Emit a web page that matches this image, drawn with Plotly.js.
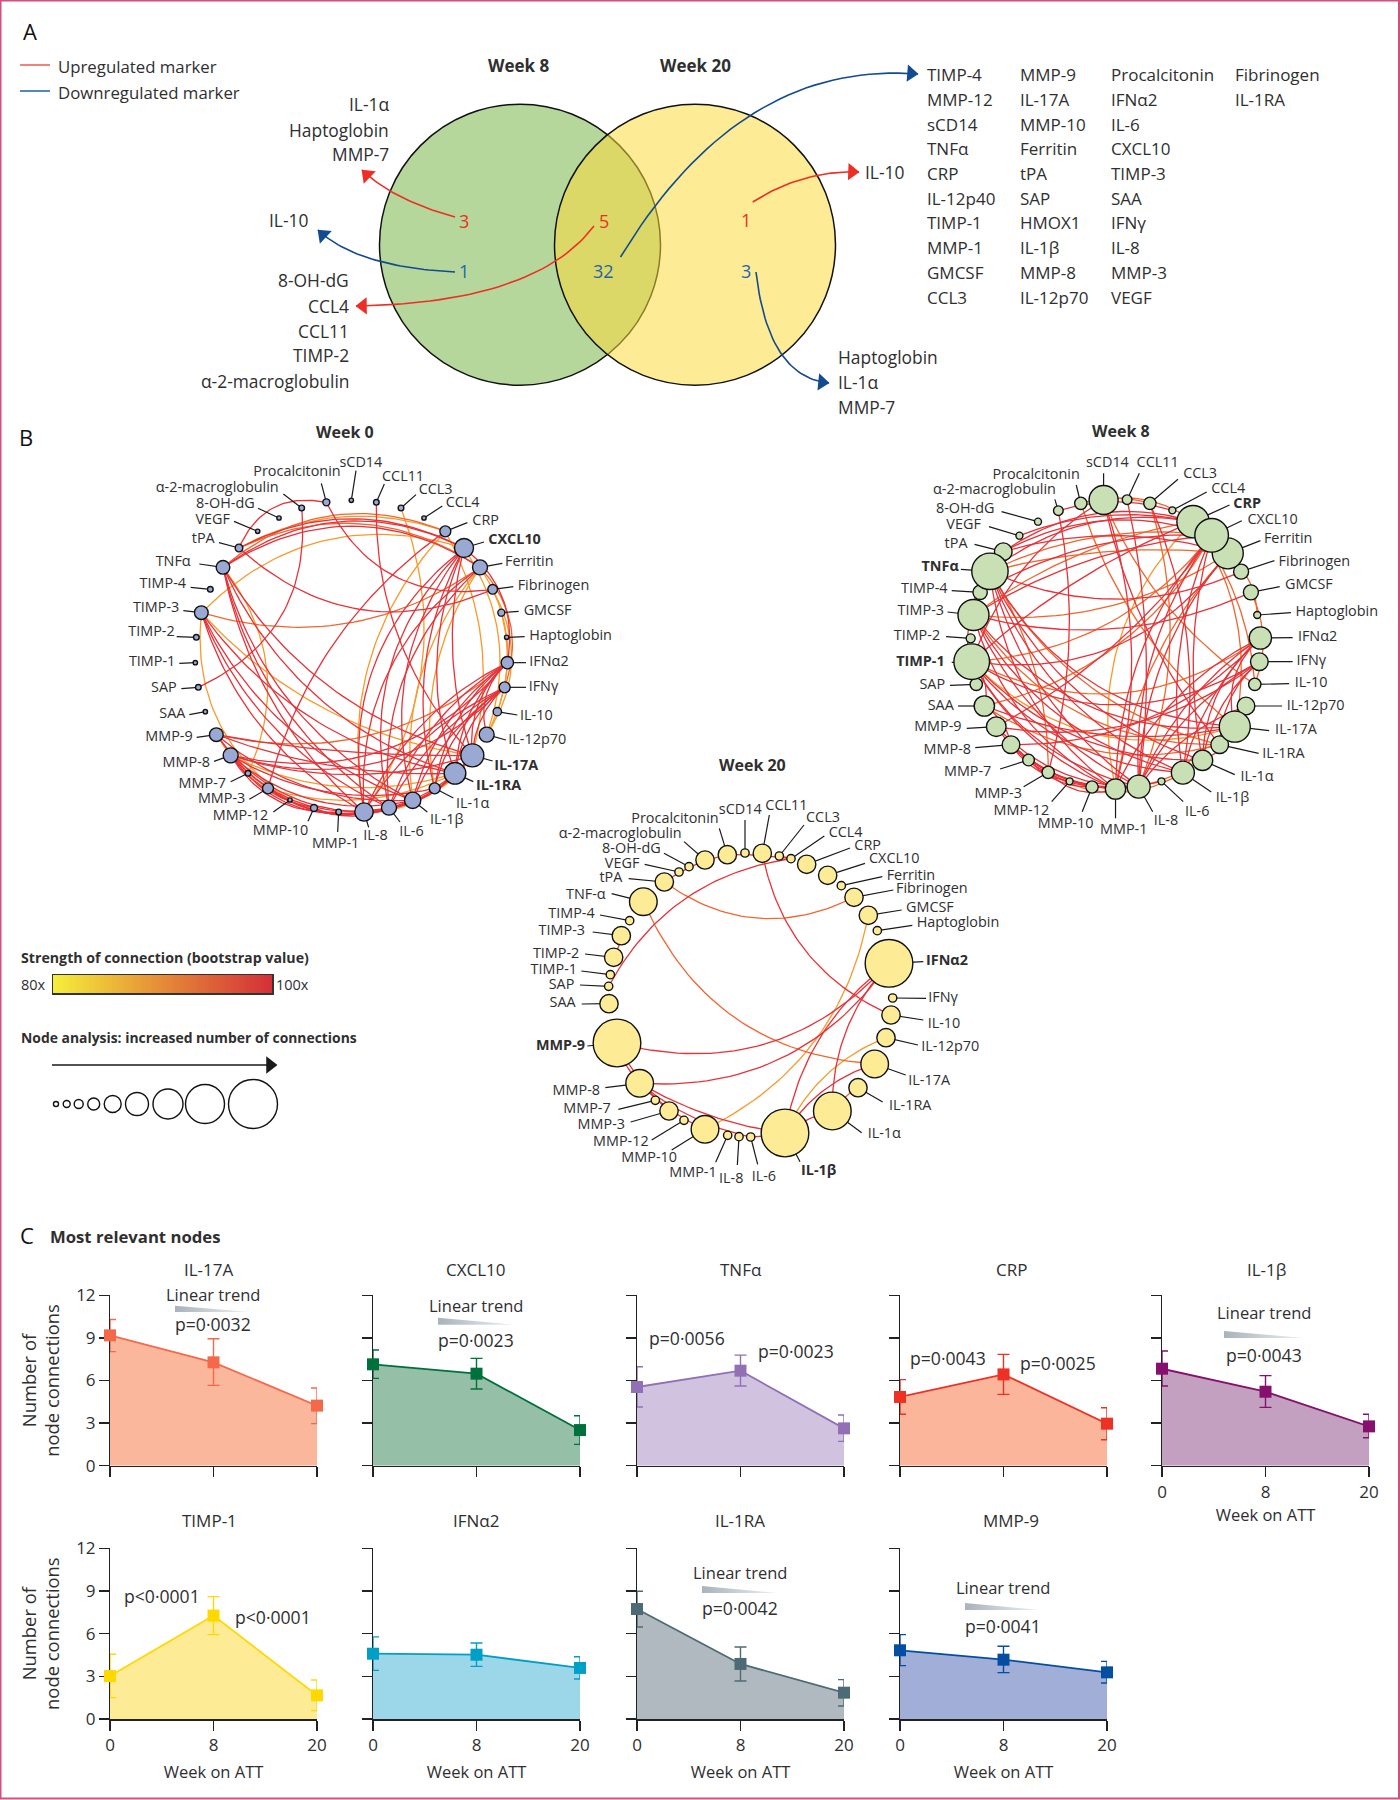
<!DOCTYPE html>
<html><head><meta charset="utf-8">
<script src="https://cdn.plot.ly/plotly-3.0.1.min.js"></script>
<style>html,body{margin:0;padding:0;background:#fff}#chart{width:1400px;height:1800px}</style>
</head><body><div id="chart"></div>
<script>
// ---------- Panel C data ----------
const weekTicks = ["0","8","20"];
const panelNames = ["IL-17A","CXCL10","TNFα","CRP","IL-1β","TIMP-1","IFNα2","IL-1RA","MMP-9"];
const il17aMean=[9.18,7.28,4.23], il17aHigh=[10.3,8.94,5.47], il17aLow=[8.03,5.66,2.96];
const cxcl10Mean=[7.14,6.48,2.51], cxcl10High=[8.15,7.56,3.52], cxcl10Low=[6.15,5.4,1.5];
const tnfMean=[5.54,6.69,2.63], tnfHigh=[6.97,7.79,3.57], tnfLow=[4.13,5.61,1.71];
const crpMean=[4.84,6.43,2.96], crpHigh=[6.06,7.84,4.08], crpLow=[3.62,5.02,1.83];
const il1bMean=[6.83,5.21,2.77], il1bHigh=[8.08,6.34,3.62], il1bLow=[5.61,4.11,1.97];
const timp1Mean=[3.02,7.27,1.66], timp1High=[4.55,8.6,2.74], timp1Low=[1.5,5.93,0.59];
const ifnMean=[4.59,4.52,3.59], ifnHigh=[5.77,5.34,4.38], ifnLow=[3.42,3.7,2.81];
const il1raMean=[7.73,3.87,1.85], il1raHigh=[8.98,5.06,2.77], il1raLow=[6.47,2.67,0.91];
const mmp9Mean=[4.83,4.17,3.28], mmp9High=[5.93,5.11,4.05], mmp9Low=[3.75,3.26,2.53];
const panelMeans=[il17aMean,cxcl10Mean,tnfMean,crpMean,il1bMean,timp1Mean,ifnMean,il1raMean,mmp9Mean];
const panelHighs=[il17aHigh,cxcl10High,tnfHigh,crpHigh,il1bHigh,timp1High,ifnHigh,il1raHigh,mmp9High];
const panelLows=[il17aLow,cxcl10Low,tnfLow,crpLow,il1bLow,timp1Low,ifnLow,il1raLow,mmp9Low];
const panelLine=["#f4694a","#00703c","#9170b5","#ee3124","#85106e","#ffd800","#00a0c6","#4d6b76","#034ea2"];
const panelFill=["#fbb79b","#95bfa7","#d1c3e0","#fbb59b","#c3a0c0","#feeb96","#9cd7e9","#b0b9c0","#a0aed8"];
const panelLeft=[110,373,637,900,1162,110,373,637,900];
const panelTitleX=[209,476,741,1011,1266,209,476,740,1011];
const panelNotes=[[212.5,1294,"Linear trend"],[212.5,1324,"p=0·0032"],[476,1305,"Linear trend"],[476,1340,"p=0·0023"],
 [687,1338,"p=0·0056"],[796,1351,"p=0·0023"],[948,1358,"p=0·0043"],[1058,1363,"p=0·0025"],
 [1264,1312,"Linear trend"],[1264,1355,"p=0·0043"],[162,1596,"p<0·0001"],[273,1617,"p<0·0001"],
 [740,1572,"Linear trend"],[740,1608,"p=0·0042"],[1003,1587,"Linear trend"],[1003,1626,"p=0·0041"]];
const trendWedges=[[175,250,1305.7,1312],[438,514,1317.7,1324.7],[1224,1304,1331,1338],[702,778,1586,1593],[965,1040,1603,1610]];

// ---------- Panel A data ----------
const vennCx=[520,695], vennCy=[244.7,244.7], vennR=[140.5,140.5];
const vennFill=["#b5d79b","rgba(253,217,57,0.53)"];
const vennCounts=[[464,221,"3","r"],[464,271,"1","b"],[604,221,"5","r"],[603,271,"32","b"],[745.5,220,"1","r"],[745.5,271,"3","b"]];
const arrowCurves=[[455,217,393,200,362,170,"r"],[455,272,357,267,318,230,"b"],[594,226,536,303,356,306,"r"],
 [620.5,257,740,60,918,74,"b"],[752.7,202,803,170,859,172,"r"],[756,272,768,377,829,383,"b"]];
const listCol1=["TIMP-4","MMP-12","sCD14","TNFα","CRP","IL-12p40","TIMP-1","MMP-1","GMCSF","CCL3"];
const listCol2=["MMP-9","IL-17A","MMP-10","Ferritin","tPA","SAP","HMOX1","IL-1β","MMP-8","IL-12p70"];
const listCol3=["Procalcitonin","IFNα2","IL-6","CXCL10","TIMP-3","SAA","IFNγ","IL-8","MMP-3","VEGF"];
const listCol4=["Fibrinogen","IL-1RA"];
const listRowsY=[74.7,99,124,148.5,173,198,222.5,247,272,297];
const upWeek8=["IL-1α","Haptoglobin","MMP-7"], upWeek8Y=[104,130,154];
const downLeft=["8-OH-dG","CCL4","CCL11","TIMP-2","α-2-macroglobulin"], downLeftY=[280,306,331,355,381];
const hapList=["Haptoglobin","IL-1α","MMP-7"], hapListY=[357,382,407];

// ---------- Panel B data: shared node order ----------
const ids=["sCD14","CCL11","CCL3","CCL4","CRP","CXCL10","Ferritin","Fibrinogen","GMCSF","Haptoglobin","IFNa2","IFNg","IL-10","IL-12p70","IL-17A","IL-1RA","IL-1a","IL-1b","IL-6","IL-8","MMP-1","MMP-10","MMP-12","MMP-3","MMP-7","MMP-8","MMP-9","SAA","SAP","TIMP-1","TIMP-2","TIMP-3","TIMP-4","TNFa","tPA","VEGF","8-OH-dG","a2M","Procalcitonin"];
const nodeLabels=["sCD14","CCL11","CCL3","CCL4","CRP","CXCL10","Ferritin","Fibrinogen","GMCSF","Haptoglobin","IFNα2","IFNγ","IL-10","IL-12p70","IL-17A","IL-1RA","IL-1α","IL-1β","IL-6","IL-8","MMP-1","MMP-10","MMP-12","MMP-3","MMP-7","MMP-8","MMP-9","SAA","SAP","TIMP-1","TIMP-2","TIMP-3","TIMP-4","TNFα","tPA","VEGF","8-OH-dG","α-2-macroglobulin","Procalcitonin"];

const wk0X=[754,829,903,972,1036,1092,1140,1178,1204,1220,1222,1214,1192,1160,1117,1065,1004,938,867,792,716,642,570,504,444,392,349,316,295,286,289,304,331,369,417,473,537,605,679];
const wk0Y=[271,277,294,324,364,414,472,538,608,682,758,832,905,974,1036,1090,1135,1171,1193,1206,1206,1194,1170,1135,1090,1036,974,905,832,758,682,608,538,472,414,364,324,294,277];
const wk0D=[16,20,20,16,36,60,48,32,24,16,40,36,28,48,72,68,36,52,48,58,20,24,16,36,20,48,44,16,20,16,20,44,20,44,26,16,16,20,24];
const wk0TextX=[847,846,956,1037,1117,1165,1215,1253,1271,1288,1288,1286,1260,1225,1183,1128,1068,990,898,790,778,625,505,436,378,330,278,256,230,226,224,238,258,272,344,390,464,536,722];
const wk0TextY=[160,202,242,281,334,392,458,528,604,680,758,832,918,990,1068,1130,1184,1232,1268,1278,1302,1264,1218,1168,1122,1060,982,914,836,758,668,596,524,458,388,332,282,234,188];
const wk0LeadX=[768,853,948,1027,1102,1152,1207,1240,1256,1274,1278,1278,1252,1218,1178,1120,1060,982,900,806,713,624,520,448,392,342,290,268,244,238,230,250,272,298,357,402,474,550,664];
const wk0LeadY=[182,222,254,288,338,396,460,530,604,680,758,832,915,990,1053,1115,1164,1206,1236,1252,1266,1234,1206,1168,1115,1054,982,914,836,760,680,602,532,462,398,334,295,252,220];
const wk0Bold=["CXCL10","IL-17A","IL-1RA"];
const wk0Edges=[
"TNFa>CXCL10:-.3:r","TNFa>Ferritin:-.32:r","TNFa>CRP:-.3:o","tPA>CXCL10:-.26:r","tPA>CRP:-.22:y","tPA>Ferritin:-.28:o","TIMP-3>CXCL10:-.3:y","Procalcitonin>tPA:.4:r",
"Procalcitonin>Fibrinogen:.36:r","tPA>Fibrinogen:.32:r","TIMP-3>Ferritin:.24:o","SAP>a2M:.35:r","CCL11>IL-17A:.2:r","CCL3>IL-8:-.26:y","CRP>MMP-3:.18:r",
"TNFa>IL-8:.17:r","TNFa>IL-6:.2:r","TNFa>IL-1b:.22:r","TNFa>IL-17A:.2:r","TNFa>IL-1RA:.22:r","TNFa>MMP-7:-.3:y",
"TIMP-3>IL-8:.2:r","TIMP-3>IL-6:.2:r","TIMP-3>IL-1b:.2:r","TIMP-3>IL-1RA:.2:r","TIMP-3>IL-17A:.18:y","TIMP-3>MMP-12:.3:y",
"CXCL10>IL-8:.3:r","CXCL10>IL-6:.28:r","CXCL10>IL-1b:.25:r","CXCL10>IL-1a:.2:r","CXCL10>IL-1RA:.2:r","CXCL10>IL-17A:.15:r","CXCL10>IL-12p70:-.25:y","CXCL10>IFNa2:-.3:r",
"Ferritin>IL-8:.28:r","Ferritin>IL-6:.25:r","Ferritin>IL-1b:.22:y","Ferritin>IL-1a:.2:y","Ferritin>IFNg:-.3:o","Ferritin>IL-10:-.25:y","CRP>IL-8:.25:y","CRP>IL-17A:-.2:y","Fibrinogen>IL-12p70:-.3:y",
"IFNa2>IL-8:.18:r","IFNa2>IL-6:.18:r","IFNa2>IL-1b:.18:r","IFNa2>IL-1a:.2:r","IFNa2>IL-1RA:.2:r","IFNa2>IL-17A:.25:r","IFNa2>IL-12p70:.3:r","IFNa2>MMP-8:-.3:r","IFNa2>MMP-9:-.25:o",
"IFNg>IL-8:.15:r","IFNg>IL-6:.15:r","IFNg>IL-1b:.15:r","IFNg>IL-1a:.2:r","IFNg>IL-1RA:.2:r","IFNg>IL-17A:.2:r","IFNg>MMP-8:-.3:r","GMCSF>IL-12p70:-.2:y",
"MMP-9>IL-17A:.05:r","MMP-9>IL-1RA:.1:r","MMP-9>IL-1b:.2:r","MMP-9>IL-8:.25:r","MMP-8>IL-17A:.16:r","MMP-8>IL-1RA:.2:y","MMP-8>IL-1a:.2:r","MMP-8>IL-1b:.25:r","MMP-8>IL-6:.28:r","MMP-8>IL-8:.3:r","MMP-8>MMP-10:.2:r","MMP-8>MMP-1:.3:r",
"MMP-3>IL-8:.2:r","MMP-3>IL-6:.25:r","MMP-3>IL-1b:.28:r","MMP-3>IL-1RA:.2:y","MMP-9>MMP-3:.1:o","MMP-9>MMP-10:.2:y","IL-8>IL-17A:.2:r","IL-8>IL-1RA:.2:r","IL-6>IL-17A:.2:r","IL-1b>IL-17A:.2:y","IL-6>IL-1RA:.2:r","MMP-10>IL-8:.2:r","MMP-10>IL-6:.22:r","IL-8>IL-1a:.2:y"];

// Week 8 (crop origin 850,410; x scale 2.851, y scale 3)
const wk8X=[723,790,855,919,978,1031,1077,1115,1143,1161,1170,1167,1154,1129,1097,1054,1005,949,888,823,757,690,626,565,509,459,417,383,360,347,344,352,371,399,437,483,536,594,658];
const wk8Y=[270,269,280,301,335,376,430,485,547,615,684,755,823,888,950,1004,1051,1088,1114,1130,1137,1131,1114,1087,1050,1004,950,888,823,755,685,615,547,484,425,377,335,302,280];
const wk8D=[90,32,40,24,100,104,96,48,48,24,70,56,40,56,96,56,64,72,24,72,64,40,24,40,38,56,62,64,40,110,30,96,46,112,56,24,24,32,40];
const wk8TextX=[795,817,950,1030,1093,1133,1180,1222,1240,1270,1277,1273,1268,1245,1212,1175,1113,1043,955,866,848,694,568,490,403,345,318,296,271,270,257,268,278,310,335,373,412,587,655];
const wk8TextY=[160,160,193,238,283,331,388,458,526,607,681,755,821,888,962,1033,1101,1166,1208,1234,1262,1243,1203,1152,1088,1021,953,889,826,757,678,604,537,472,403,347,298,242,197];
const wk8LeadX=[723,825,935,1017,1082,1117,1170,1210,1225,1257,1262,1262,1252,1232,1195,1165,1097,1030,950,863,757,662,575,495,428,357,333,308,285,290,274,278,290,316,355,396,432,584,645];
const wk8LeadY=[190,190,208,246,285,332,392,452,530,608,683,755,821,888,962,1030,1094,1146,1175,1205,1225,1205,1175,1130,1077,1013,955,888,826,757,680,606,542,478,403,350,305,268,225];
const wk8Bold=["CRP","TNFa","TIMP-1"];
const wk8Edges=[
"tPA>CXCL10:-.22:r","tPA>CRP:-.24:r","TNFa>CRP:-.22:r","TNFa>CXCL10:-.15:o","tPA>Ferritin:-.15:r","VEGF>CRP:-.15:r","a2M>CCL4:-.15:r","Procalcitonin>CCL3:-.15:o","sCD14>CRP:-.22:o",
"TIMP-3>Ferritin:.18:o","TIMP-1>CXCL10:.22:o","TIMP-1>Ferritin:.3:r","TIMP-3>GMCSF:.18:r","TNFa>Fibrinogen:.22:r","TIMP-3>CRP:-.12:o","TNFa>Ferritin:-.09:o","TIMP-4>CXCL10:-.15:r","TIMP-3>CXCL10:-.12:r","TIMP-1>CRP:-.09:r",
"sCD14>MMP-1:-.15:r","CCL11>IL-8:-.09:r","CCL3>IL-8:-.18:o","CCL3>IL-1b:-.15:r","Procalcitonin>IL-17A:.15:o","sCD14>IL-10:.15:o","sCD14>IL-1RA:.12:r","CRP>MMP-1:.27:y","a2M>MMP-3:-.12:r","sCD14>TIMP-1:.18:r",
"TNFa>IL-8:.18:r","TNFa>MMP-1:.22:r","TNFa>IL-1b:.22:r","TNFa>IL-17A:.27:r","TNFa>IL-1a:.22:r","TNFa>IL-1RA:.22:o","TNFa>MMP-3:-.15:o",
"TIMP-3>MMP-1:.22:r","TIMP-3>IL-8:.18:r","TIMP-3>IL-1b:.22:r","TIMP-3>IL-17A:.27:r","TIMP-3>IL-1RA:.27:o",
"TIMP-1>IL-8:.22:r","TIMP-1>IL-1b:.22:r","TIMP-1>IL-17A:.3:y","TIMP-1>IL-1a:.22:r","TIMP-1>IFNa2:.3:o","TIMP-1>IFNg:.3:r","TIMP-1>MMP-1:.18:r",
"CXCL10>MMP-1:.18:r","CXCL10>IL-8:.18:r","CXCL10>SAA:-.22:o","CXCL10>IL-1b:.15:r","CXCL10>IL-1a:.12:r","CXCL10>MMP-9:-.12:r","Ferritin>IL-8:.18:r","Ferritin>MMP-1:.15:o","CRP>IL-17A:-.22:o","CRP>IL-10:-.15:o",
"IFNa2>MMP-1:.18:r","IFNa2>IL-8:.15:r","IFNa2>IL-1b:.15:r","IFNg>IL-8:.15:r","IFNa2>MMP-8:-.22:r","IFNg>MMP-9:-.22:r","IFNa2>IL-1a:.22:r","IFNa2>IL-17A:.3:r","IFNg>IL-1RA:.22:r","IFNg>IL-1a:.18:r","IL-12p70>IL-8:.15:r",
"MMP-8>IL-8:.22:r","MMP-8>MMP-1:.18:r","MMP-9>IL-8:.22:r","MMP-3>IL-1b:.3:o","MMP-7>IL-8:.18:r","MMP-8>IL-1a:.37:o","SAA>IL-17A:.15:r","SAA>IL-1RA:.22:o","MMP-7>MMP-10:.22:r","MMP-8>MMP-12:.22:r","MMP-3>MMP-1:.3:r","MMP-9>MMP-10:.22:r","MMP-8>IL-6:.27:r",
"TIMP-1>TIMP-3:-.22:r","TIMP-3>TNFa:-.22:r","TIMP-1>SAA:-.3:r","SAA>MMP-8:-.22:r","IL-17A>IL-1a:-.22:r","IL-1b>IL-1RA:-.3:o","GMCSF>IL-10:-.22:o","Ferritin>Haptoglobin:-.22:o"];

// Week 20 (crop origin 500,750 at 3x)
const wk20X=[735,787,838,873,920,983,1024,1062,1105,1132,1167,1178,1173,1158,1124,1074,997,855,752,717,683,615,552,507,466,419,351,327,326,331,341,364,389,430,493,537,567,615,682];
const wk20Y=[309,310,318,326,343,376,407,442,496,542,640,744,795,863,942,1013,1083,1149,1161,1160,1156,1138,1111,1083,1051,1000,879,761,709,674,622,557,512,455,396,366,350,330,314];
const wk20D=[28,58,28,28,58,58,28,58,58,28,146,28,58,58,86,58,116,146,28,28,28,86,28,58,28,86,146,58,28,28,58,58,28,86,58,28,28,58,58];
const wk20TextX=[785,796,918,986,1063,1107,1160,1188,1218,1250,1278,1285,1283,1264,1225,1167,1103,903,755,657,650,531,446,375,332,300,255,227,223,231,238,255,284,317,367,418,482,545,656];
const wk20TextY=[181,168,205,249,288,328,378,418,475,521,633,744,822,893,994,1068,1153,1265,1283,1287,1270,1224,1176,1125,1078,1023,889,761,706,661,612,545,493,435,385,343,298,253,209];
const wk20LeadX=[735,808,912,973,1050,1095,1147,1180,1205,1237,1270,1278,1270,1254,1217,1148,1085,900,773,712,647,515,455,392,355,316,262,245,240,244,255,278,300,335,386,434,492,552,658];
const wk20LeadY=[210,195,225,258,294,340,380,420,480,526,635,745,810,885,975,1056,1148,1235,1243,1245,1237,1200,1170,1116,1078,1013,888,762,705,663,612,546,495,431,386,343,310,275,235];
const wk20Bold=["IFNa2","MMP-9","IL-1b"];
const wk20Labels=nodeLabels.map(s=>s==="TNFα"?"TNF-α":s);
const wk20Edges=[
"SAP>CCL4:-.25:r","tPA>Fibrinogen:.3:o","TNFa>IL-17A:.3:o","CCL11>IL-10:.26:r","MMP-9>IFNa2:.3:r","MMP-8>IFNa2:.28:r","MMP-10>GMCSF:.25:y",
"IL-1b>IFNa2:-.2:r","IL-1b>IL-12p70:-.2:y","IL-1b>IL-17A:-.18:r","IL-1a>IFNa2:-.2:r","MMP-8>IL-1b:.1:r","MMP-8>MMP-10:.1:r","MMP-8>IL-6:.12:r","MMP-9>MMP-8:.12:r","MMP-9>MMP-3:.1:r",
"IL-1b>IL-1a:-.1:r","IL-1a>IL-1RA:-.1:o","TIMP-3>TIMP-2:-.1:r","Procalcitonin>tPA:.1:r","Procalcitonin>CCL4:-.04:r","IL-6>IL-1b:.05:r","CCL3>CCL4:-.05:r"];

// Legend bits
const strengthScale=[80,81,82,83,84,85,86,87,88,89,90,91,92,93,94,95,96,97,98,99,100];
const sizeLegendX=[56,66.7,78.7,93.7,112.7,137,168,205,253];
const sizeLegendD=[5,7,9,12,17,23,30,39,49];

// ---------- helpers ----------
const FONT='"Open Sans",sans-serif', INK='#2f2f2f';
const edgeColors={r:'#e63339',o:'#f2652d',y:'#f79a2b'}, arrowColors={r:'#ee2e24',b:'#124b8f'};
const traces=[], annotations=[], shapes=[];
function txt(x,y,s,o){o=o||{};const a=o.a||'center';const shift=a==='left'?-1.5:(a==='right'?1.5:0);
  annotations.push({xref:'x',yref:'y',x:x+shift,y,text:s,showarrow:false,xanchor:a,yanchor:'middle',
  font:{family:FONT,size:o.s||16,color:o.c||INK},textangle:o.r||0});}
function quad(ax,ay,cx,cy,bx,by,out){for(let k=0;k<=36;k++){const t=k/36,u=1-t;
  out.x.push(u*u*ax+2*u*t*cx+t*t*bx);out.y.push(u*u*ay+2*u*t*cy+t*t*by);}out.x.push(null);out.y.push(null);}

function network(X,Y,D,TX,TY,LX,LY,edges,bold,labels,ox,oy,sx,fill){
  const px=X.map(v=>ox+v/sx),py=Y.map(v=>oy+v/3),d=D.map(v=>Math.max(v/3-1,3));
  const groups={r:{x:[],y:[]},o:{x:[],y:[]},y:{x:[],y:[]}};
  edges.forEach(e=>{const [pair,b,c]=e.split(':');const [f,t]=pair.split('>');const i=ids.indexOf(f),j=ids.indexOf(t);
    const ax=px[i],ay=py[i],bx=px[j],by=py[j],dx=bx-ax,dy=by-ay,bend=parseFloat(b);
    quad(ax,ay,(ax+bx)/2-dy*bend,(ay+by)/2+dx*bend,bx,by,groups[c]);});
  ['y','o','r'].forEach(c=>traces.push({type:'scatter',mode:'lines',x:groups[c].x,y:groups[c].y,xaxis:'x',yaxis:'y',
    line:{color:edgeColors[c],width:1.3},hoverinfo:'skip',showlegend:false}));
  const lead={x:[],y:[]};
  px.forEach((v,i)=>{lead.x.push(v,ox+LX[i]/sx,null);lead.y.push(py[i],oy+LY[i]/3,null);});
  traces.push({type:'scatter',mode:'lines',x:lead.x,y:lead.y,xaxis:'x',yaxis:'y',line:{color:'#1a1a1a',width:1.2},hoverinfo:'skip',showlegend:false});
  const order=px.map((_,i)=>i).sort((a,b)=>d[a]-d[b]);
  traces.push({type:'scatter',mode:'markers',x:order.map(i=>px[i]),y:order.map(i=>py[i]),text:order.map(i=>labels[i]),xaxis:'x',yaxis:'y',cliponaxis:false,
    marker:{size:order.map(i=>d[i]),color:fill,opacity:1,line:{color:'#111',width:1.4}},hoverinfo:'text',showlegend:false});
  traces.push({type:'scatter',mode:'text',x:TX.map(v=>ox+v/sx),y:TY.map(v=>oy+v/3),xaxis:'x',yaxis:'y',cliponaxis:false,
    text:labels.map((s,i)=>bold.includes(ids[i])?'<b>'+s+'</b>':s),
    textposition:ids.map((_,i)=>(i>=1&&i<=19)?'middle right':'middle left'),
    textfont:{family:FONT,size:14.4,color:INK},hoverinfo:'skip',showlegend:false});
}

// ---------- Panel A ----------
vennCx.forEach((cx,i)=>shapes.push({type:'circle',xref:'x',yref:'y',layer:'below',x0:cx-vennR[i],x1:cx+vennR[i],y0:vennCy[i]-vennR[i],y1:vennCy[i]+vennR[i],
  fillcolor:vennFill[i],line:{color:'#111',width:1.5}}));
txt(30,31,'A',{s:22,c:'#111'});
[[65,'#ee5a50','Upregulated marker'],[91,'#1c5fa8','Downregulated marker']].forEach(r=>{
  traces.push({type:'scatter',mode:'lines',x:[20,50],y:[r[0],r[0]],xaxis:'x',yaxis:'y',line:{color:r[1],width:1.5},hoverinfo:'skip',showlegend:false});
  txt(57,r[0]+1,r[2],{a:'left',s:16.8});});
txt(518,65,'<b>Week 8</b>',{s:17});txt(695,65,'<b>Week 20</b>',{s:17});
vennCounts.forEach(v=>txt(v[0],v[1],v[2],{s:18,c:v[3]==='r'?arrowColors.r:'#1f64ad'}));
arrowCurves.forEach(a=>{const o={x:[],y:[]};quad(a[0],a[1],a[2],a[3],a[4],a[5],o);
  const c=arrowColors[a[6]];
  traces.push({type:'scatter',mode:'lines',x:o.x,y:o.y,xaxis:'x',yaxis:'y',line:{color:c,width:1.6},hoverinfo:'skip',showlegend:false});
  const tx=a[4]-a[2],ty=a[5]-a[3],tl=Math.hypot(tx,ty),ang=Math.atan2(tx,-ty)*180/Math.PI;
  traces.push({type:'scatter',mode:'markers',x:[a[4]-7*tx/tl],y:[a[5]-7*ty/tl],xaxis:'x',yaxis:'y',cliponaxis:false,
    marker:{symbol:'triangle-up',size:15,color:c,angle:ang,line:{width:0}},hoverinfo:'skip',showlegend:false});});
[[listCol1,926],[listCol2,1019.6],[listCol3,1110.7],[listCol4,1234.8]].forEach(c=>c[0].forEach((s,i)=>txt(c[1],listRowsY[i],s,{a:'left',s:17})));
upWeek8.forEach((s,i)=>txt(389,upWeek8Y[i],s,{a:'right',s:17.4}));
txt(308,220,'IL-10',{a:'right',s:17.4});
downLeft.forEach((s,i)=>txt(349,downLeftY[i],s,{a:'right',s:17.4}));
txt(864,172,'IL-10',{a:'left',s:17.4});
hapList.forEach((s,i)=>txt(837.5,hapListY[i],s,{a:'left',s:17.4}));

// ---------- Panel B ----------
txt(26,437,'B',{s:22,c:'#111'});
txt(345,432,'<b>Week 0</b>',{s:16});txt(1121,431,'<b>Week 8</b>',{s:16});txt(752,765,'<b>Week 20</b>',{s:16});
network(wk0X,wk0Y,wk0D,wk0TextX,wk0TextY,wk0LeadX,wk0LeadY,wk0Edges,wk0Bold,nodeLabels,100,410,3,'#9aa8d4');
network(wk8X,wk8Y,wk8D,wk8TextX,wk8TextY,wk8LeadX,wk8LeadY,wk8Edges,wk8Bold,nodeLabels,850,410,2.851,'#c9e0b4');
network(wk20X,wk20Y,wk20D,wk20TextX,wk20TextY,wk20LeadX,wk20LeadY,wk20Edges,wk20Bold,wk20Labels,500,750,3,'#fdeb96');

// legend of panel B
txt(20,957,'<b>Strength of connection (bootstrap value)</b>',{a:'left',s:14.2});
txt(20,984,'80x',{a:'left',s:14.5});txt(275,984,'100x',{a:'left',s:14.5});
txt(20,1037,'<b>Node analysis: increased number of connections</b>',{a:'left',s:13.9});
traces.push({type:'heatmap',x:strengthScale,y:[0,1],z:[strengthScale,strengthScale],xaxis:'x11',yaxis:'y11',zmin:80,zmax:100,showscale:false,zsmooth:'best',hoverinfo:'skip',
  colorscale:[[0,'#f5ee3a'],[0.5,'#e58a38'],[1,'#d42f38']]});
traces.push({type:'scatter',mode:'lines',x:[52,268],y:[1065,1065],xaxis:'x',yaxis:'y',line:{color:'#1a1a1a',width:1.6},hoverinfo:'skip',showlegend:false});
traces.push({type:'scatter',mode:'markers',x:[270],y:[1065],xaxis:'x',yaxis:'y',marker:{symbol:'triangle-right',size:15,color:'#1a1a1a'},hoverinfo:'skip',showlegend:false});
traces.push({type:'scatter',mode:'markers',x:sizeLegendX,y:sizeLegendX.map(()=>1104),xaxis:'x',yaxis:'y',
  marker:{size:sizeLegendD,color:'#fff',opacity:1,line:{color:'#111',width:1.4}},hoverinfo:'skip',showlegend:false});

// ---------- Panel C ----------
txt(27,1235,'C',{s:22,c:'#111'});
txt(49,1236,'<b>Most relevant nodes</b>',{a:'left',s:16.7});
trendWedges.forEach(w=>traces.push({type:'scatter',mode:'none',x:[w[0],w[1],w[0],w[0]],y:[w[2],w[3],w[3],w[2]],xaxis:'x',yaxis:'y',fill:'toself',
  fillgradient:{type:'horizontal',colorscale:[[0,'#a9b3bc'],[1,'#edf0f2']]},hoverinfo:'skip',showlegend:false}));
panelNotes.forEach(n=>txt(n[0],n[1],n[2],{s:n[2][0]==='p'?17.6:16.5}));

const layout={width:1400,height:1800,margin:{l:0,r:0,t:0,b:0},paper_bgcolor:'#fff',plot_bgcolor:'rgba(0,0,0,0)',showlegend:false,hovermode:'closest',
  font:{family:FONT,color:INK},annotations,shapes,
  xaxis:{domain:[0,1],range:[0,1400],visible:false,fixedrange:true},
  yaxis:{domain:[0,1],range:[1800,0],visible:false,fixedrange:true},
  xaxis11:{domain:[53/1400,272/1400],range:[80,100],anchor:'y11',showticklabels:false,ticks:'',showgrid:false,zeroline:false,showline:true,mirror:true,linecolor:'#333',linewidth:1.5},
  yaxis11:{domain:[1-993/1800,1-975/1800],range:[0,1],anchor:'x11',showticklabels:false,ticks:'',showgrid:false,zeroline:false,showline:true,mirror:true,linecolor:'#333',linewidth:1.5}};

panelNames.forEach((name,i)=>{
  const n=i+2, row1=i<5, top=row1?1295.3:1548.3, bottom=row1?1465.7:1719, L=panelLeft[i];
  const showX=!row1||i===4, showY=i===0||i===5, m=panelMeans[i];
  traces.push({type:'scatter',mode:'lines+markers',x:[0,1,2],y:m,xaxis:'x'+n,yaxis:'y'+n,cliponaxis:false,name:name,
    fill:'tozeroy',fillcolor:panelFill[i],line:{color:panelLine[i],width:1.8},
    marker:{symbol:'square',size:12,color:panelLine[i]},
    error_y:{type:'data',symmetric:false,array:panelHighs[i].map((v,k)=>v-m[k]),arrayminus:panelLows[i].map((v,k)=>m[k]-v),color:panelLine[i],thickness:1.4,width:6},
    hoverinfo:'y',showlegend:false});
  layout['xaxis'+n]={domain:[L/1400,(L+207)/1400],range:[0,2],anchor:'y'+n,tickmode:'array',tickvals:[0,1,2],ticktext:weekTicks,
    showticklabels:showX,ticks:'outside',ticklen:10,tickwidth:1.4,tickcolor:'#222',linecolor:'#222',linewidth:1.5,showline:true,showgrid:false,zeroline:false,layer:'below traces',
    tickfont:{family:FONT,size:17,color:INK},title:showX?{text:'Week on ATT',font:{family:FONT,size:16.5,color:INK},standoff:row1?6:11.5}:undefined};
  layout['yaxis'+n]={domain:[1-bottom/1800,1-top/1800],range:[0,12],anchor:'x'+n,tickmode:'array',tickvals:[0,3,6,9,12],
    showticklabels:showY,ticks:'outside',ticklen:9.5,tickwidth:1.4,tickcolor:'#222',linecolor:'#222',linewidth:1.5,showline:true,showgrid:false,zeroline:false,layer:'below traces',
    tickfont:{family:FONT,size:17,color:INK},title:showY?{text:'Number of<br>node connections',font:{family:FONT,size:18.4,color:INK},standoff:11}:undefined};
  txt(panelTitleX[i],row1?1269:1520,name,{s:17});
});
// page frame
shapes.push({type:'rect',xref:'x',yref:'y',x0:0.5,x1:1399,y0:0.5,y1:1798.5,line:{color:'#d4507c',width:2},fillcolor:'rgba(0,0,0,0)',layer:'above'});

Plotly.newPlot('chart',traces,layout,{staticPlot:true,displayModeBar:false});
</script></body></html>
